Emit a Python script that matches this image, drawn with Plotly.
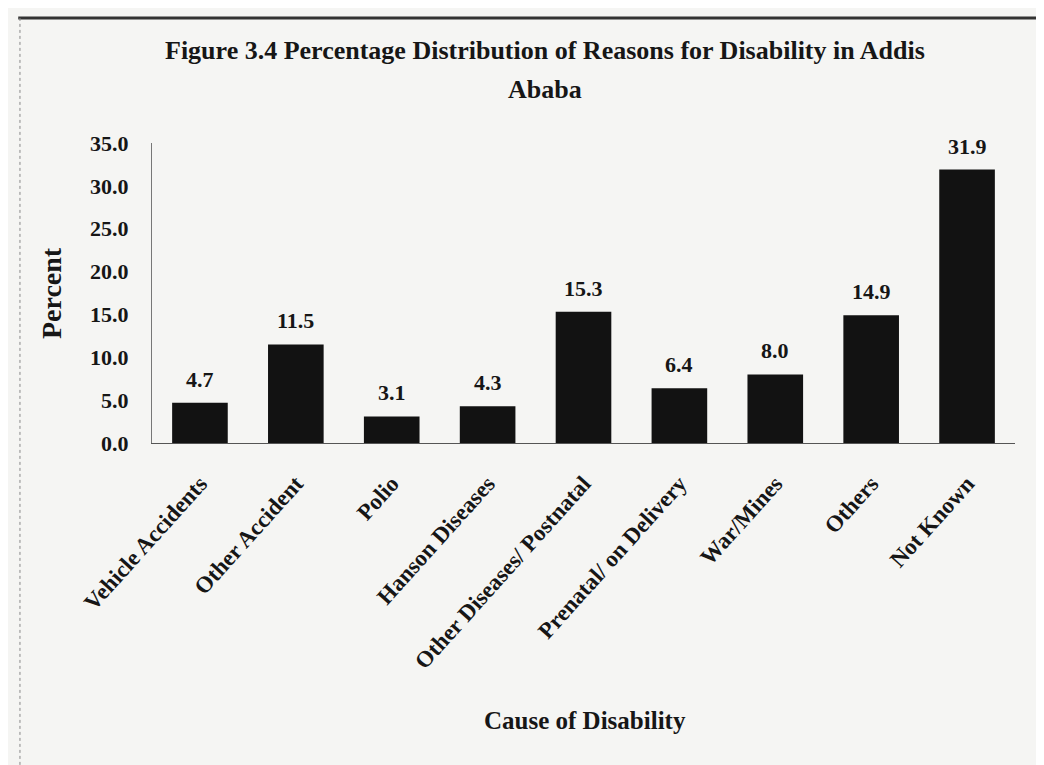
import plotly.graph_objects as go

causes = ['Vehicle Accidents', 'Other Accident', 'Polio', 'Hanson Diseases',
          'Other Diseases/ Postnatal', 'Prenatal/ on Delivery', 'War/Mines',
          'Others', 'Not Known']
percent = [4.7, 11.5, 3.1, 4.3, 15.3, 6.4, 8.0, 14.9, 31.9]
y_ticks = [0, 5, 10, 15, 20, 25, 30, 35]
y_tick_text = ['%.1f' % v for v in y_ticks]

serif = 'Liberation Serif, Times New Roman, serif'
ink = '#161616'

fig = go.Figure(go.Bar(x=causes, y=percent,
                       marker=dict(color='#121212', line=dict(width=0))))

# value labels above each bar
for c, v in zip(causes, percent):
    fig.add_annotation(x=c, y=v, text='<b>%.1f</b>' % v, showarrow=False,
                       yanchor='bottom', yshift=9,
                       font=dict(family=serif, size=22, color=ink))

fig.add_annotation(xref='paper', yref='paper', x=0.455, y=1.307,
                   xanchor='center', yanchor='middle',
                   text='<b>Figure 3.4 Percentage Distribution of Reasons for Disability in Addis</b>',
                   showarrow=False, font=dict(family=serif, size=26, color=ink))
fig.add_annotation(xref='paper', yref='paper', x=0.455, y=1.18,
                   xanchor='center', yanchor='middle',
                   text='<b>Ababa</b>', showarrow=False,
                   font=dict(family=serif, size=26, color=ink))
fig.add_annotation(xref='paper', yref='paper', x=-0.117, y=0.5,
                   xanchor='center', yanchor='middle',
                   text='<b>Percent</b>', textangle=-90, showarrow=False,
                   font=dict(family=serif, size=28, color=ink))
fig.add_annotation(xref='paper', yref='paper', x=0.502, y=-0.925,
                   xanchor='center', yanchor='middle',
                   text='<b>Cause of Disability</b>', showarrow=False,
                   font=dict(family=serif, size=25, color=ink))

# scanned page frame
fig.add_shape(type='line', xref='paper', yref='paper', x0=-0.155, x1=1.05,
              y0=1.417, y1=1.417, line=dict(color='#333', width=3))
fig.add_shape(type='line', xref='paper', yref='paper', x0=-0.153, x1=-0.153,
              y0=1.417, y1=-1.12, line=dict(color='#888', width=1, dash='dot'))

fig.update_layout(
    width=1044, height=765,
    margin=dict(l=144, r=37, t=135, b=330),
    paper_bgcolor='#f5f5f3', plot_bgcolor='#f5f5f3',
    bargap=0.42, showlegend=False,
    font=dict(family=serif, color=ink),
)
fig.update_xaxes(showline=True, linecolor='#555', linewidth=1, showgrid=False,
                 tickangle=-48, ticklabelstandoff=17,
                 tickfont=dict(family=serif, size=23, color=ink),
                 ticktext=['<b>%s</b>' % c for c in causes], tickvals=causes)
fig.update_yaxes(range=[0, 35], showline=True, linecolor='#777', linewidth=1,
                 showgrid=False, zeroline=False, tickvals=y_ticks,
                 ticktext=['<b>%s</b>' % t for t in y_tick_text],
                 ticklabelstandoff=18,
                 tickfont=dict(family=serif, size=22, color=ink))

fig.write_html('out.html')
